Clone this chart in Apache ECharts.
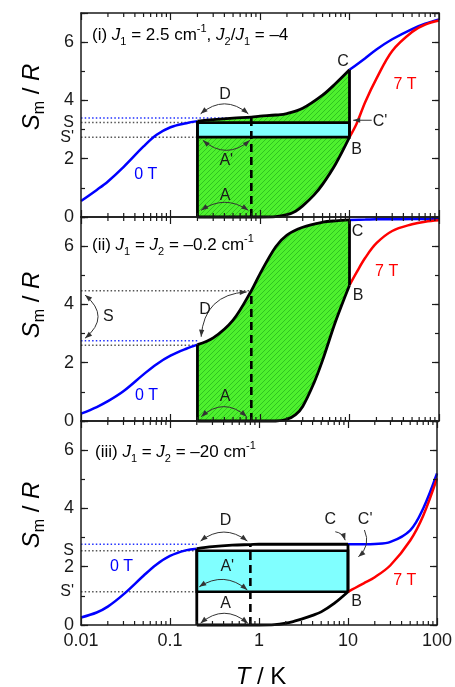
<!DOCTYPE html>
<html><head><meta charset="utf-8">
<script src="https://cdn.jsdelivr.net/npm/echarts@6/dist/echarts.min.js"></script>
<style>html,body{margin:0;padding:0;background:#fff}#c{width:455px;height:687px}</style>
</head><body><div id="c"></div>
<script>
// ---------------- data ----------------
const T_0T = [0.01,0.015,0.02,0.03,0.05,0.07,0.1,0.15,0.2,0.3,0.5,0.8,1,1.5,2,3,5,7,10,15,20,30,50,70,100];
const S_0T_i   = [0.55,0.93,1.22,1.72,2.42,2.82,3.08,3.22,3.29,3.34,3.39,3.43,3.46,3.5,3.55,3.73,4.18,4.58,5.05,5.45,5.75,6.1,6.45,6.63,6.78];
const S_0T_ii  = [0.25,0.48,0.68,1.03,1.6,1.95,2.24,2.48,2.62,2.85,3.46,4.47,5.05,5.98,6.38,6.65,6.82,6.87,6.9,6.91,6.92,6.92,6.93,6.93,6.93];
const S_0T_iii = [0.26,0.43,0.63,1.05,1.68,2.07,2.37,2.56,2.62,2.69,2.74,2.76,2.77,2.77,2.77,2.77,2.77,2.77,2.77,2.77,2.78,2.85,3.25,4.0,5.2];
const T_7T = [0.2,0.5,0.8,1,1.5,2,2.5,3,4,5,7,10,12,15,20,30,50,70,100];
const S_7T_i   = [0,0,0,0,0.01,0.08,0.2,0.38,0.75,1.12,1.82,2.74,3.2,3.95,4.75,5.7,6.35,6.6,6.74];
const S_7T_ii  = [0,0,0,0,0,0.06,0.22,0.5,1.3,2.08,3.42,4.66,5.1,5.6,6.1,6.52,6.75,6.84,6.89];
const S_7T_iii = [0,0,0,0,0.01,0.06,0.13,0.2,0.33,0.45,0.74,1.14,1.27,1.43,1.64,2.05,2.9,3.75,5.03];

const T_LOW = 0.2, T_HIGH = 10, T_DASH = 0.8;
const DASH_TOP = [3.43, 4.47, 2.77];
const RECT_i = [0.2, 10, 2.74, 3.24];     // T0, T1, S', S
const RECT_iii = [0.2, 10, 1.14, 2.55];

// dotted guide lines: [S level, T end]
const DOT_BLUE_i = [[3.4, 0.8]];
const DOT_BLACK_i = [[3.24, 0.2], [2.74, 0.2]];
const DOT_BLUE_ii = [[2.75, 0.2]];
const DOT_BLACK_ii = [[4.47, 0.8], [2.6, 0.2]];
const DOT_BLUE_iii = [[2.77, 0.2]];
const DOT_BLACK_iii = [[2.55, 0.2], [1.14, 0.2]];

// arrows: [T1, S1, T2, S2, bulge(px), heads]
const ARCS_i = [[0.217,3.54,0.74,3.54,10,2],[0.23,2.63,0.77,2.63,-10,2],[0.22,0.23,0.74,0.23,8,2],[17.7,3.32,11.0,3.32,0,1]];
const ARCS_ii = [[0.0111,4.32,0.0111,2.84,13,2],[0.22,2.89,0.71,4.43,14,2],[0.22,0.15,0.71,0.15,10,2]];
const ARCS_iii = [[0.22,2.88,0.74,2.88,9,2],[0.213,1.31,0.74,1.2,9,2],[0.22,0.06,0.75,0.06,10,2],[7.2,3.2,9.3,2.91,2,1],[15.3,3.26,13.1,2.34,5,1]];

// point labels: [T, S, text]
const LBL_i = [[0.406,4.2,'D'],[0.42,1.94,"A'"],[0.406,0.74,'A'],[8.45,5.34,'C'],[12.0,2.32,'B'],[21.9,3.28,"C'"]];
const LBL_ii = [[0.0202,3.58,'S'],[0.243,3.82,'D'],[0.406,0.83,'A'],[12.3,6.51,'C'],[12.5,4.29,'B']];
const LBL_iii = [[0.42,3.57,'D'],[0.44,2.0,"A'"],[0.42,0.74,'A'],[6.32,3.6,'C'],[15.6,3.6,"C'"],[12.5,0.8,'B']];
const LBL0 = [[0.053,1.46,'0 T'],[0.054,0.86,'0 T'],[0.0285,2.0,'0 T']];
const LBL7 = [[41.7,4.55,'7 T'],[26,5.13,'7 T'],[43.5,1.54,'7 T']];
// extra y-axis labels: [S, text]
const YLBL_i = [[3.24,'S'],[2.74,"S'"]];
const YLBL_ii = [];
const YLBL_iii = [[2.55,'S'],[1.14,"S'"]];

const X_MINOR = [0.02,0.03,0.04,0.05,0.06,0.07,0.08,0.09,0.2,0.3,0.4,0.5,0.6,0.7,0.8,0.9,2,3,4,5,6,7,8,9,20,30,40,50,60,70,80,90];
const Y_LABELS = [0,2,4,6];
const TITLES = [
 '{n|(i) }{i|J}{s|1}{n| = 2.5 cm}{p|-1}{n|, }{i|J}{s|2}{n|/}{i|J}{s|1}{n| = –4}',
 '{n|(ii) }{i|J}{s|1}{n| = }{i|J}{s|2}{n| = –0.2 cm}{p|-1}',
 '{n|(iii) }{i|J}{s|1}{n| = }{i|J}{s|2}{n| = –20 cm}{p|-1}'
];

// ---------------- chart ----------------
const F = '"Liberation Sans", Arial, Helvetica, sans-serif';
const INK = '#1a1a1a';
const GT = [13, 217, 421], GH = 204;

function hatch() {
  const s = 5, c = document.createElement('canvas'); c.width = s; c.height = s;
  const g = c.getContext('2d');
  g.fillStyle = '#4ef02e'; g.fillRect(0, 0, s, s);
  g.strokeStyle = '#2cbf1e'; g.lineWidth = 0.9;
  g.beginPath();
  g.moveTo(-1, s + 1); g.lineTo(s + 1, -1);
  g.moveTo(-1, 1); g.lineTo(1, -1);
  g.moveTo(s - 1, s + 1); g.lineTo(s + 1, s - 1);
  g.stroke();
  return c;
}
const HATCH = {image: hatch(), repeat: 'repeat'};

const panels = [
 {s0:S_0T_i, s7:S_7T_i, green:true, rect:RECT_i, dotB:DOT_BLUE_i, dotK:DOT_BLACK_i, arcs:ARCS_i, lbl:LBL_i, ylbl:YLBL_i},
 {s0:S_0T_ii, s7:S_7T_ii, green:true, rect:null, dotB:DOT_BLUE_ii, dotK:DOT_BLACK_ii, arcs:ARCS_ii, lbl:LBL_ii, ylbl:YLBL_ii},
 {s0:S_0T_iii, s7:S_7T_iii, green:false, rect:RECT_iii, dotB:DOT_BLUE_iii, dotK:DOT_BLACK_iii, arcs:ARCS_iii, lbl:LBL_iii, ylbl:YLBL_iii}
];

const grids = GT.map(t => ({left: 81, width: 358, top: t, height: GH}));
const axLine = {color: INK, width: 1.5};
const tickLine = {color: INK, width: 1.2};
function xAx(i, pos, labels) {
  return {type: 'log', logBase: 10, gridIndex: i, position: pos, min: 0.01, max: 100, z: 10,
    axisLine: {show: true, onZero: false, lineStyle: axLine},
    axisTick: {show: true, inside: true, length: 7, lineStyle: tickLine},
    splitLine: {show: false}, minorTick: {show: false},
    axisLabel: {show: labels, fontSize: 18, fontFamily: F, color: INK, margin: 7,
      formatter: v => String(+(+v).toPrecision(3))}};
}
function yAx(i, pos, major) {
  return {type: 'value', gridIndex: i, position: pos, min: 0, max: 7, interval: major ? 2 : 1, z: 10,
    axisLine: {show: major, onZero: false, lineStyle: axLine},
    axisTick: {show: true, inside: true, length: major ? 7 : 4, lineStyle: tickLine},
    splitLine: {show: false},
    axisLabel: {show: major && pos === 'left', fontSize: 18, fontFamily: F, color: INK, margin: 7,
      formatter: v => Y_LABELS.indexOf(v) >= 0 ? String(v) : ''}};
}
const xAxis = [0,1,2].map(i => xAx(i, 'bottom', i === 2)).concat([0,1,2].map(i => xAx(i, 'top', false)));
const yAxis = [0,1,2].map(i => yAx(i, 'left', true))
  .concat([0,1,2].map(i => yAx(i, 'left', false)))
  .concat([0,1,2].map(i => yAx(i, 'right', true)))
  .concat([0,1,2].map(i => yAx(i, 'right', false)));

function line(i, data, color, width, z, extra) {
  return Object.assign({type: 'line', xAxisIndex: i, yAxisIndex: i, data, symbol: 'none', smooth: 0.35,
    clip: false, silent: true, z, lineStyle: {color, width}}, extra || {});
}
function arrowHead(tip, from, color) {
  const dx = tip[0] - from[0], dy = tip[1] - from[1], L = Math.hypot(dx, dy) || 1;
  const ux = dx / L, uy = dy / L, len = 7, hw = 2.6;
  const bx = tip[0] - ux * len, by = tip[1] - uy * len;
  return {type: 'polygon', shape: {points: [[tip[0], tip[1]], [bx - uy * hw, by + ux * hw], [bx + uy * hw, by - ux * hw]]},
    style: {fill: color}};
}

const series = [];
panels.forEach((P, i) => {
  const p0 = T_0T.map((t, k) => [t, P.s0[k]]);
  const p7 = T_7T.map((t, k) => [t, P.s7[k]]);
  const mid0 = p0.filter(p => p[0] >= T_LOW && p[0] <= T_HIGH);
  const mid7 = p7.filter(p => p[0] >= T_LOW && p[0] <= T_HIGH);
  const lo0 = p0.filter(p => p[0] <= T_LOW), hi0 = p0.filter(p => p[0] >= T_HIGH);
  const hi7 = p7.filter(p => p[0] >= T_HIGH);
  const s0Low = mid0[0][1], s0High = mid0[mid0.length - 1][1], s7High = mid7[mid7.length - 1][1];
  const noLine = {lineStyle: {width: 0, opacity: 0}};
  if (P.green) {
    series.push(line(i, mid0, INK, 0, 1, Object.assign({areaStyle: {color: HATCH, opacity: 1, origin: 'start'}}, noLine)));
    // region under the 7 T curve stays white
    series.push(line(i, p7, INK, 0, 2, Object.assign({areaStyle: {color: '#ffffff', opacity: 1, origin: 'start'}}, noLine)));
  }
  if (P.rect) {
    series.push({type: 'custom', xAxisIndex: i, yAxisIndex: i, data: [P.rect], z: 3, silent: true, clip: false,
      renderItem: (params, api) => {
        const r = P.rect;
        const a = api.coord([r[0], r[2]]), b = api.coord([r[1], r[3]]);
        return {type: 'rect', shape: {x: a[0], y: b[1], width: b[0] - a[0], height: a[1] - b[1]},
          style: {fill: '#80ffff', stroke: '#000', lineWidth: 2.6}};
      }});
  }
  P.dotB.forEach(d => series.push(line(i, [[0.01, d[0]], [d[1], d[0]]], '#2030ff', 1.5, 4, {smooth: false, lineStyle: {color: '#2030ff', width: 1.5, type: [1.5, 2.2]}})));
  P.dotK.forEach(d => series.push(line(i, [[0.01, d[0]], [d[1], d[0]]], '#555', 1.5, 4, {smooth: false, lineStyle: {color: '#555', width: 1.5, type: [1.5, 2.2]}})));
  series.push(line(i, [[T_DASH, 0], [T_DASH, DASH_TOP[i]]], '#000', 2.6, 5, {smooth: false, lineStyle: {color: '#000', width: 2.6, type: [8, 5]}}));
  series.push(line(i, lo0, '#0000ff', 2.5, 6));
  series.push(line(i, hi0, '#0000ff', 2.5, 6));
  series.push(line(i, hi7, '#ff0000', 2.5, 6));
  series.push(line(i, mid0, '#000', 2.8, 7));
  series.push(line(i, mid7, '#000', 2.8, 7));
  series.push(line(i, [[T_LOW, 0], [T_LOW, s0Low]], '#000', 2.8, 7, {smooth: false}));
  series.push(line(i, [[T_HIGH, s7High], [T_HIGH, s0High]], '#000', 2.8, 7, {smooth: false}));
  // arrows
  series.push({type: 'custom', xAxisIndex: i, yAxisIndex: i, data: P.arcs, z: 8, silent: true, clip: false,
    renderItem: (params, api) => {
      const r = P.arcs[params.dataIndex];
      const a = api.coord([r[0], r[1]]), b = api.coord([r[2], r[3]]);
      const dx = b[0] - a[0], dy = b[1] - a[1], L = Math.hypot(dx, dy) || 1;
      const nx = dy / L, ny = -dx / L;
      const c = [(a[0] + b[0]) / 2 + nx * 2 * r[4], (a[1] + b[1]) / 2 + ny * 2 * r[4]];
      const col = '#333';
      const ch = [{type: 'bezierCurve', shape: {x1: a[0], y1: a[1], x2: b[0], y2: b[1], cpx1: c[0], cpy1: c[1]},
        style: {stroke: col, lineWidth: 1, fill: null}}];
      ch.push(arrowHead(b, r[4] === 0 ? a : c, col));
      if (r[5] === 2) ch.push(arrowHead(a, c, col));
      return {type: 'group', children: ch};
    }});
  // labels
  const txt = (arr, color, z) => ({type: 'custom', xAxisIndex: i, yAxisIndex: i, data: arr.map(r => [r[0], r[1]]), z, silent: true, clip: false,
    renderItem: (params, api) => {
      const r = arr[params.dataIndex]; const p = api.coord([r[0], r[1]]);
      return {type: 'text', x: p[0], y: p[1], style: {text: r[2], fill: color, fontSize: 16, fontFamily: F, align: 'center', verticalAlign: 'middle'}};
    }});
  series.push(txt(P.lbl, INK, 9));
  series.push(txt([LBL0[i]], '#0000ff', 9));
  series.push(txt([LBL7[i]], '#ff0000', 9));
  if (P.ylbl.length) {
    series.push({type: 'custom', xAxisIndex: i, yAxisIndex: i, data: P.ylbl.map(r => [0.01, r[0]]), z: 9, silent: true, clip: false,
      renderItem: (params, api) => {
        const r = P.ylbl[params.dataIndex]; const p = api.coord([0.01, r[0]]);
        return {type: 'text', x: p[0] - 7, y: p[1], style: {text: r[1], fill: INK, fontSize: 16, fontFamily: F, align: 'right', verticalAlign: 'middle'}};
      }});
  }
  // log minor ticks
  series.push({type: 'custom', xAxisIndex: i, yAxisIndex: i, data: X_MINOR.map(v => [v, 0]), z: 20, silent: true, clip: false,
    renderItem: (params, api) => {
      const v = X_MINOR[params.dataIndex];
      const b = api.coord([v, 0]), t = api.coord([v, 7]);
      return {type: 'group', children: [
        {type: 'line', shape: {x1: b[0], y1: b[1], x2: b[0], y2: b[1] - 4}, style: {stroke: INK, lineWidth: 1.2}},
        {type: 'line', shape: {x1: t[0], y1: t[1], x2: t[0], y2: t[1] + 4}, style: {stroke: INK, lineWidth: 1.2}}]};
    }});
});

const richT = {
  n: {fontSize: 17, fontFamily: F, color: INK, lineHeight: 24, verticalAlign: 'middle'},
  i: {fontSize: 17, fontFamily: F, fontStyle: 'italic', color: INK, lineHeight: 24, verticalAlign: 'middle'},
  s: {fontSize: 11, fontFamily: F, color: INK, verticalAlign: 'bottom'},
  p: {fontSize: 11, fontFamily: F, color: INK, verticalAlign: 'top'}
};
const titlePos = [[92, 23], [92, 233], [95, 440]];
const graphic = TITLES.map((t, k) => ({type: 'text', left: titlePos[k][0], top: titlePos[k][1], silent: true,
  style: {text: t, rich: richT}}));
const richY = {
  i: {fontSize: 24, fontFamily: F, fontStyle: 'italic', color: INK, lineHeight: 32, verticalAlign: 'middle'},
  n: {fontSize: 24, fontFamily: F, color: INK, lineHeight: 32, verticalAlign: 'middle'},
  s: {fontSize: 16, fontFamily: F, color: INK, verticalAlign: 'bottom'}
};
[97, 305, 515].forEach(y => graphic.push({type: 'text', x: 32, y, rotation: Math.PI / 2, silent: true,
  style: {text: '{i|S}{s|m}{n| / }{i|R}', rich: richY, align: 'center', verticalAlign: 'middle'}}));
graphic.push({type: 'text', x: 261, y: 677, silent: true,
  style: {text: '{i|T}{n| / K}', rich: richY, align: 'center', verticalAlign: 'middle'}});

const chart = echarts.init(document.getElementById('c'));
chart.setOption({animation: false, grid: grids, xAxis, yAxis, series, graphic});
</script></body></html>
